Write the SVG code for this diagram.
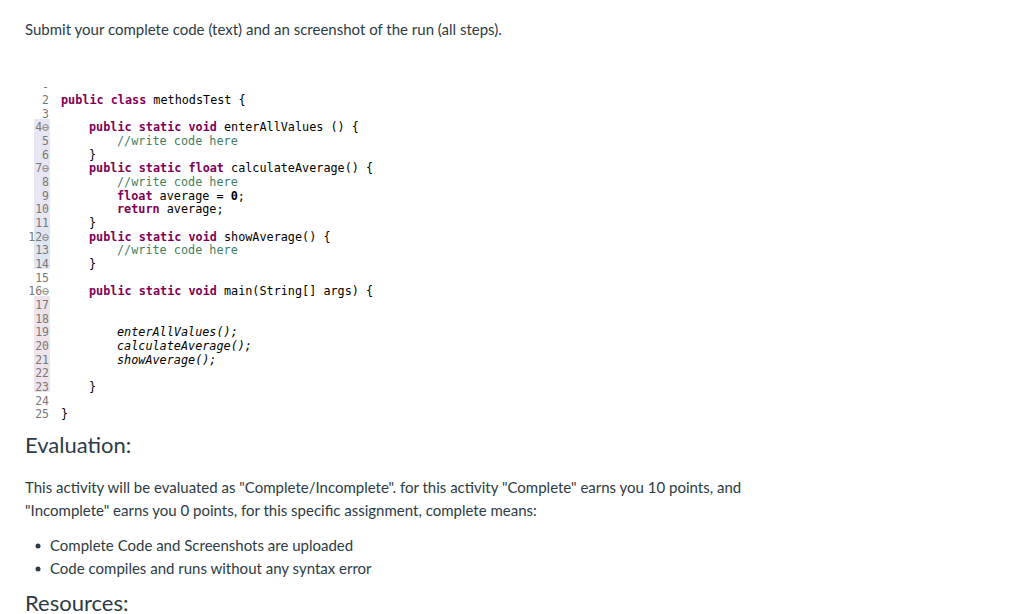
<svg xmlns="http://www.w3.org/2000/svg" width="1024" height="614" viewBox="0 0 1024 614">
<style>
.p{font-family:Lato,"Liberation Sans",sans-serif;fill:#2d3b45;font-size:15px}
.h{font-family:Lato,"Liberation Sans",sans-serif;fill:#2d3b45;font-size:22px}
.c{font-family:"DejaVu Sans Mono",monospace;font-size:11.8px;fill:#000}
.n{font-family:"DejaVu Sans Mono",monospace;font-size:11.5px;fill:#787878;text-anchor:end}
.k{fill:#7f0055;font-weight:bold}
.cm{fill:#3f7f5f}
.b{font-weight:bold}
.i{font-style:italic}
</style>
<rect width="1024" height="614" fill="#fff"/>
<text class="p" x="25" y="35">Submit your complete code (text) and an screenshot of the run (all steps).</text>
<rect x="34" y="119" width="16" height="150" fill="#e8e6f2"/>
<rect x="34" y="228" width="16" height="41" fill="#dfe6f3"/>
<rect x="34" y="296" width="16" height="96" fill="#f0e4ec"/>
<g class="n">
<text x="49" y="91">-</text>
<text x="49" y="104">2</text><text x="49" y="118">3</text><text x="49" y="131">4⊖</text><text x="49" y="145">5</text>
<text x="49" y="159">6</text><text x="49" y="172">7⊖</text><text x="49" y="186">8</text><text x="49" y="200">9</text>
<text x="49" y="213">10</text><text x="49" y="227">11</text><text x="49" y="241">12⊖</text><text x="49" y="254">13</text>
<text x="49" y="268">14</text><text x="49" y="282">15</text><text x="49" y="295">16⊖</text><text x="49" y="309">17</text>
<text x="49" y="323">18</text><text x="49" y="336">19</text><text x="49" y="350">20</text><text x="49" y="364">21</text>
<text x="49" y="377">22</text><text x="49" y="391">23</text><text x="49" y="405">24</text><text x="49" y="418">25</text>
</g>
<g class="c">
<text x="61" y="104"><tspan class="k">public class</tspan> methodsTest {</text>
<text x="89" y="131"><tspan class="k">public static void</tspan> enterAllValues () {</text>
<text x="117" y="145" class="cm">//write code here</text>
<text x="89" y="159">}</text>
<text x="89" y="172"><tspan class="k">public static float</tspan> calculateAverage() {</text>
<text x="117" y="186" class="cm">//write code here</text>
<text x="117" y="200"><tspan class="k">float</tspan> average = <tspan class="b">0</tspan>;</text>
<text x="117" y="213"><tspan class="k">return</tspan> average;</text>
<text x="89" y="227">}</text>
<text x="89" y="241"><tspan class="k">public static void</tspan> showAverage() {</text>
<text x="117" y="254" class="cm">//write code here</text>
<text x="89" y="268">}</text>
<text x="89" y="295"><tspan class="k">public static void</tspan> main(String[] args) {</text>
<text x="117" y="336" class="i">enterAllValues();</text>
<text x="117" y="350" class="i">calculateAverage();</text>
<text x="117" y="364" class="i">showAverage();</text>
<text x="89" y="391">}</text>
<text x="61" y="418">}</text>
</g>
<text class="h" x="25" y="453">Evaluation:</text>
<text class="p" x="25" y="493">This activity will be evaluated as "Complete/Incomplete".  for this activity "Complete" earns you 10 points, and</text>
<text class="p" x="25" y="516">"Incomplete" earns you 0 points, for this specific assignment, complete means:</text>
<circle cx="38" cy="546" r="2.5" fill="#2d3b45"/>
<text class="p" x="50" y="551">Complete Code and Screenshots are uploaded</text>
<circle cx="38" cy="569" r="2.5" fill="#2d3b45"/>
<text class="p" x="50" y="574">Code compiles and runs without any syntax error</text>
<text class="h" x="25" y="611">Resources:</text>
</svg>
